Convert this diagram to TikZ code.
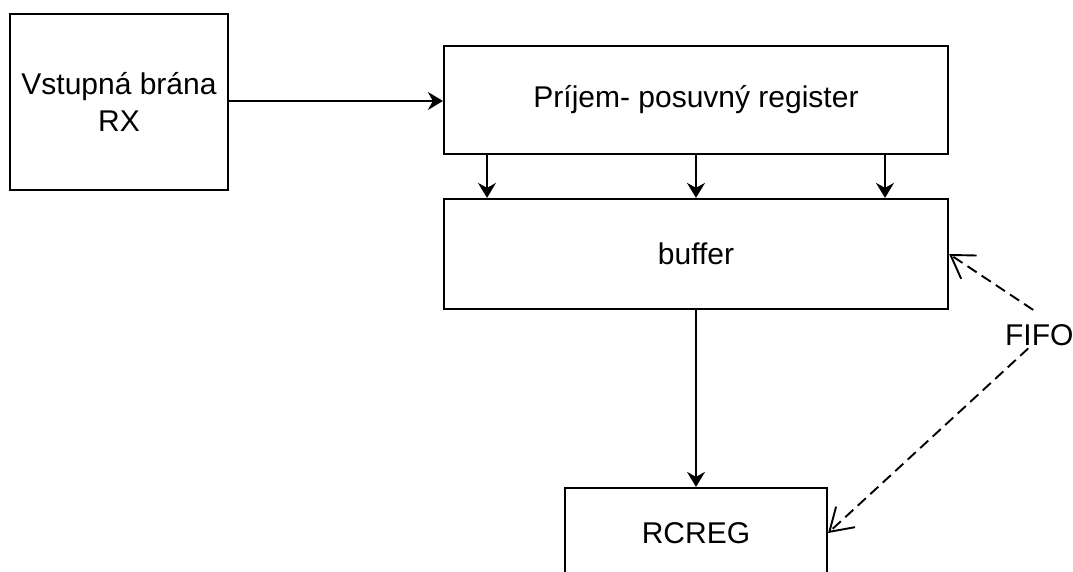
\documentclass[tikz,border=0pt]{standalone}
\usepackage{fontspec}
\setmainfont{Liberation Sans}
\usetikzlibrary{arrows.meta}

\begin{document}
\begin{tikzpicture}[x=1pt, y=-1pt, line width=2.2pt,
    blok/.style={draw, rectangle, inner sep=0pt, font=\fontsize{30}{37}\selectfont, align=center},
    arr/.style={-{Stealth[length=15pt, width=18pt, inset=5pt]}},
    darr/.style={-{Straight Barb[length=22pt, width=28pt]}, line width=1.9pt, dash pattern=on 11pt off 6pt}]
  \path[use as bounding box, clip] (0,0) rectangle (1073,572);

  % Blocks
  \node[blok, minimum width=218pt, minimum height=176pt] (rx) at (119,102) {Vstupná brána\\RX};
  \node[blok, minimum width=504pt, minimum height=108pt] (reg) at (696,100) {Príjem- posuvný register};
  \node[blok, minimum width=504pt, minimum height=110pt] (buf) at (696,254) {buffer};
  \node[blok, minimum width=262pt, minimum height=90pt] (rcreg) at (696,533) {RCREG};

  % Label
  \node[font=\fontsize{30}{37}\selectfont, inner sep=0pt, anchor=base west] (fifo) at (1004,345) {FIFO};

  % Data path
  \draw[arr] (rx.east |- 0,101) -- (reg.west |- 0,101);
  \foreach \dx in {-209,0,189}
    \draw[arr] ([xshift=\dx pt]reg.south) -- ([xshift=\dx pt]buf.north);
  \draw[arr] (buf.south) -- (rcreg.north);

  % FIFO
  \draw[darr] ([xshift=-6pt, yshift=13pt]fifo.north) -- (buf.east);
  \draw[darr] ([xshift=-11pt, yshift=-2pt]fifo.south) -- (rcreg.east);

\end{tikzpicture}
\end{document}
